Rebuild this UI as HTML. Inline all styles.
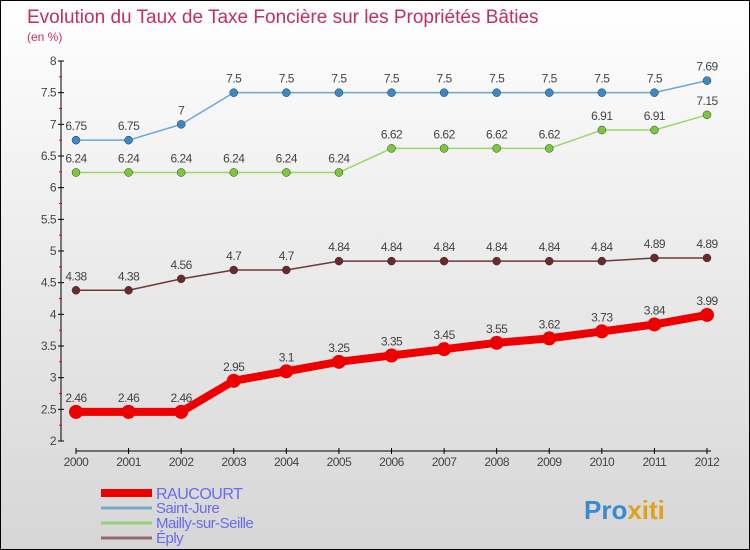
<!DOCTYPE html>
<html><head><meta charset="utf-8"><style>
body{margin:0}
#c{width:750px;height:550px;position:relative;box-sizing:border-box;border:1px solid #000;background:linear-gradient(#fff,#f2f2f2 30%,#d6d6d6);font-family:"Liberation Sans",sans-serif;overflow:hidden}
</style></head><body>
<div id="c">
<svg id="s" width="750" height="550" style="position:absolute;left:0;top:0">
<text x="26" y="22" font-size="19" fill="#c0305a">Evolution du Taux de Taxe Foncière sur les Propriétés Bâties</text>
<text x="26" y="40" font-size="12" fill="#c0305a">(en %)</text>
<text x="583" y="518" font-size="26" font-weight="bold"><tspan fill="#3a8ad0">Pro</tspan><tspan fill="#e0a020">xiti</tspan></text>
</svg>
</div>
<script>
const years=[2000,2001,2002,2003,2004,2005,2006,2007,2008,2009,2010,2011,2012];
const raucourt=[2.46,2.46,2.46,2.95,3.1,3.25,3.35,3.45,3.55,3.62,3.73,3.84,3.99];
const saintJure=[6.75,6.75,7,7.5,7.5,7.5,7.5,7.5,7.5,7.5,7.5,7.5,7.69];
const mailly=[6.24,6.24,6.24,6.24,6.24,6.24,6.62,6.62,6.62,6.62,6.91,6.91,7.15];
const eply=[4.38,4.38,4.56,4.7,4.7,4.84,4.84,4.84,4.84,4.84,4.84,4.89,4.89];
const yTicks=[2,2.5,3,3.5,4,4.5,5,5.5,6,6.5,7,7.5,8];
const seriesNames=["RAUCOURT","Saint-Jure","Mailly-sur-Seille","Éply"];
const s=document.getElementById('s');const NS='http://www.w3.org/2000/svg';
function X(i){return 75+i*(706-75)/(years.length-1);}
function Y(v){return 440-(v-2)*(380/6);}
function el(t,a,txt){const e=document.createElementNS(NS,t);for(const k in a)e.setAttribute(k,a[k]);if(txt!==undefined)e.textContent=txt;s.appendChild(e);return e;}
let e=el('line',{x1:60,y1:60,x2:60,y2:440,stroke:'#000'});


yTicks.forEach(v=>{
 let t=el('line',{x1:57,x2:63,y1:Y(v),y2:Y(v),stroke:'#000'});
 
 
 let m=el('line',{x1:58,x2:61,y1:Y(v+0.25),y2:Y(v+0.25),stroke:'#e00'});
 if(v===8)m.remove();
 let l=el('text',{x:55,y:Y(v)+4,'font-size':12,fill:'#444','text-anchor':'end','letter-spacing':'-0.5'},String(v));
 
 
});
e=el('line',{x1:75,y1:450,x2:710,y2:450,stroke:'#000'});


years.forEach((y,i)=>{
 el('line',{x1:X(i),x2:X(i),y1:447,y2:453,stroke:'#000'});
 let l=el('text',{x:X(i),y:465,'font-size':12,fill:'#444','text-anchor':'middle','letter-spacing':'-0.5'},String(y));
 
 
});
function series(vals,color,w,r,dot,name){
 const p=el('polyline',{points:vals.map((v,i)=>X(i)+','+Y(v)).join(' '),fill:'none',stroke:color,'stroke-width':w,'stroke-linejoin':'round'});
 
 
 vals.forEach((v,i)=>{
  const c=el('circle',{cx:X(i),cy:Y(v),r:r,fill:dot,stroke:color==='#e00'?'none':'#333','stroke-width':0.5});
  
  
  const t=el('text',{x:X(i),y:Y(v)-10,'font-size':12,fill:'#444','text-anchor':'middle','letter-spacing':'-0.5'},String(v));
  
  
 });
}
series(saintJure,'#6aa6d8',1.5,4,'#3a88c8','saint-jure');
series(mailly,'#9ad66a',1.5,4,'#7cc83a','mailly');
series(eply,'#6a3a3a',1.5,4,'#6a2a2a','eply');
series(raucourt,'#e00',8,7,'#e00','raucourt');
const lc=['#e00','#7aa8c8','#9ad07a','#906a6a'],lw=[8,3,3,3];
seriesNames.forEach((n,i)=>{
 const y=492+i*15;
 const l=el('line',{x1:100,x2:151,y1:y,y2:y,stroke:lc[i],'stroke-width':lw[i]});
 
 
 const t=el('text',{x:155,y:y+(i===0?6:5),'font-size':i===0?16:15,fill:'#6a6af0','letter-spacing':'-0.5'},n);
 
 
});
</script>
</body></html>
